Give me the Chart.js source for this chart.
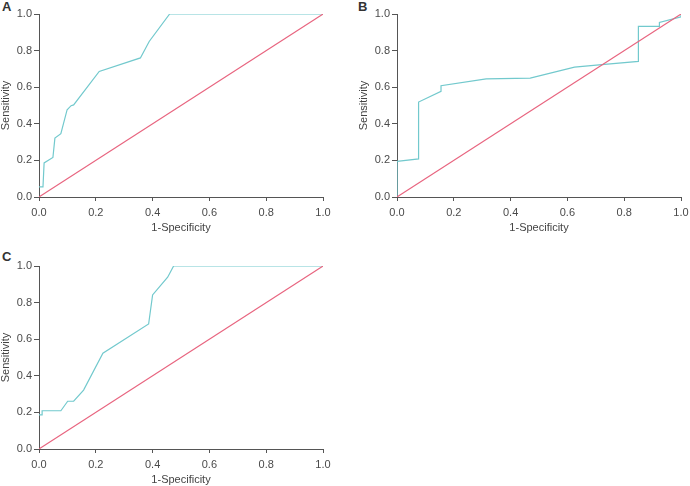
<!DOCTYPE html>
<html lang="en">
<head>
    <meta charset="UTF-8">
    <title>ROC curves</title>
    <script src="https://cdn.jsdelivr.net/npm/chart.js"></script>
    <style>
    body { margin: 0; background: #fff; width: 690px; height: 486px; position: relative; overflow: hidden; font-family: "Liberation Sans", Arial, sans-serif; }
    .panel { position: absolute; height: 234px; }
    .tag { position: absolute; font-weight: bold; font-size: 13px; color: #333; line-height: 13px; }
    </style>
</head>
<body>
    <div class="tag" style="left:2px; top:0px;">A</div>
    <div class="tag" style="left:358px; top:0px;">B</div>
    <div class="tag" style="left:2px; top:250px;">C</div>
    <div class="panel" style="left:0; top:0; width:340px;"><canvas id="chartA"></canvas></div>
    <div class="panel" style="left:358px; top:0; width:332px;"><canvas id="chartB"></canvas></div>
    <div class="panel" style="left:0; top:252px; width:340px;"><canvas id="chartC"></canvas></div>

    <script>
        // reference line
        const diagX = [0, 1];
        const diagY = [0, 1];

        // panel A: 1-specificity / sensitivity
        const rocAX = [0, 0.014, 0.018, 0.049, 0.056, 0.077, 0.099, 0.113, 0.122, 0.212, 0.357, 0.388, 0.46, 1.0];
        const rocAY = [0.055, 0.055, 0.186, 0.216, 0.322, 0.346, 0.477, 0.499, 0.503, 0.686, 0.760, 0.850, 1.0, 1.0];

        // panel B
        const rocBX = [0, 0, 0.076, 0.076, 0.155, 0.155, 0.314, 0.469, 0.625, 0.721, 0.850, 0.850, 0.924, 0.924, 1.0, 1.0];
        const rocBY = [0, 0.195, 0.208, 0.519, 0.577, 0.608, 0.645, 0.650, 0.710, 0.723, 0.741, 0.932, 0.932, 0.954, 0.984, 1.0];

        // panel C
        const rocCX = [0, 0.011, 0.011, 0.077, 0.101, 0.122, 0.157, 0.225, 0.386, 0.400, 0.453, 0.474, 1.0];
        const rocCY = [0.186, 0.186, 0.209, 0.209, 0.261, 0.261, 0.322, 0.523, 0.683, 0.842, 0.939, 1.0, 1.0];

        const tickValues = [0, 0.2, 0.4, 0.6, 0.8, 1.0];

        const toPts = (xs, ys) => xs.map((x, i) => ({ x: x, y: ys[i] }));

        const font = { family: '"Liberation Sans", Arial, sans-serif', size: 11 };

        function axis(title, isY) {
            return {
                type: 'linear',
                min: 0,
                max: 1,
                afterBuildTicks: s => { s.ticks = tickValues.map(v => ({ value: v })); },
                afterFit: s => {
                    if (isY) { s.width = 39; }
                    else { s.height = 37; s.paddingLeft = 0; s.paddingRight = 0; }
                },
                border: { display: true, color: '#555', width: 1 },
                grid: { display: true, drawOnChartArea: false, drawTicks: true, tickLength: isY ? 5 : 4, color: '#555', lineWidth: 1 },
                ticks: {
                    color: '#4a4a4a',
                    font: font,
                    padding: isY ? 2 : 5,
                    maxRotation: 0,
                    callback: v => v.toFixed(1)
                },
                title: {
                    display: true,
                    text: title,
                    color: '#444',
                    font: { family: font.family, size: 11, lineHeight: 1 },
                    padding: isY ? { top: 0, bottom: 0 } : { top: 0, bottom: 1 }
                }
            };
        }

        function makeChart(id, xs, ys, rightPad) {
            new Chart(document.getElementById(id), {
                type: 'scatter',
                data: {
                    datasets: [{
                        data: toPts(diagX, diagY),
                        showLine: true,
                        borderColor: '#e8647f',
                        borderWidth: 1.1,
                        pointRadius: 0
                    }, {
                        data: toPts(xs, ys),
                        showLine: true,
                        borderColor: '#72c9cd',
                        borderWidth: 1.2,
                        pointRadius: 0
                    }]
                },
                options: {
                    responsive: true,
                    maintainAspectRatio: false,
                    animation: false,
                    layout: { padding: { top: 14, right: rightPad, left: 0, bottom: 0 } },
                    plugins: { legend: { display: false }, tooltip: { enabled: false } },
                    scales: {
                        x: axis('1-Specificity', false),
                        y: axis('Sensitivity', true)
                    }
                }
            });
        }

        makeChart('chartA', rocAX, rocAY, 17);
        makeChart('chartB', rocBX, rocBY, 9);
        makeChart('chartC', rocCX, rocCY, 17);
    </script>
</body>
</html>
